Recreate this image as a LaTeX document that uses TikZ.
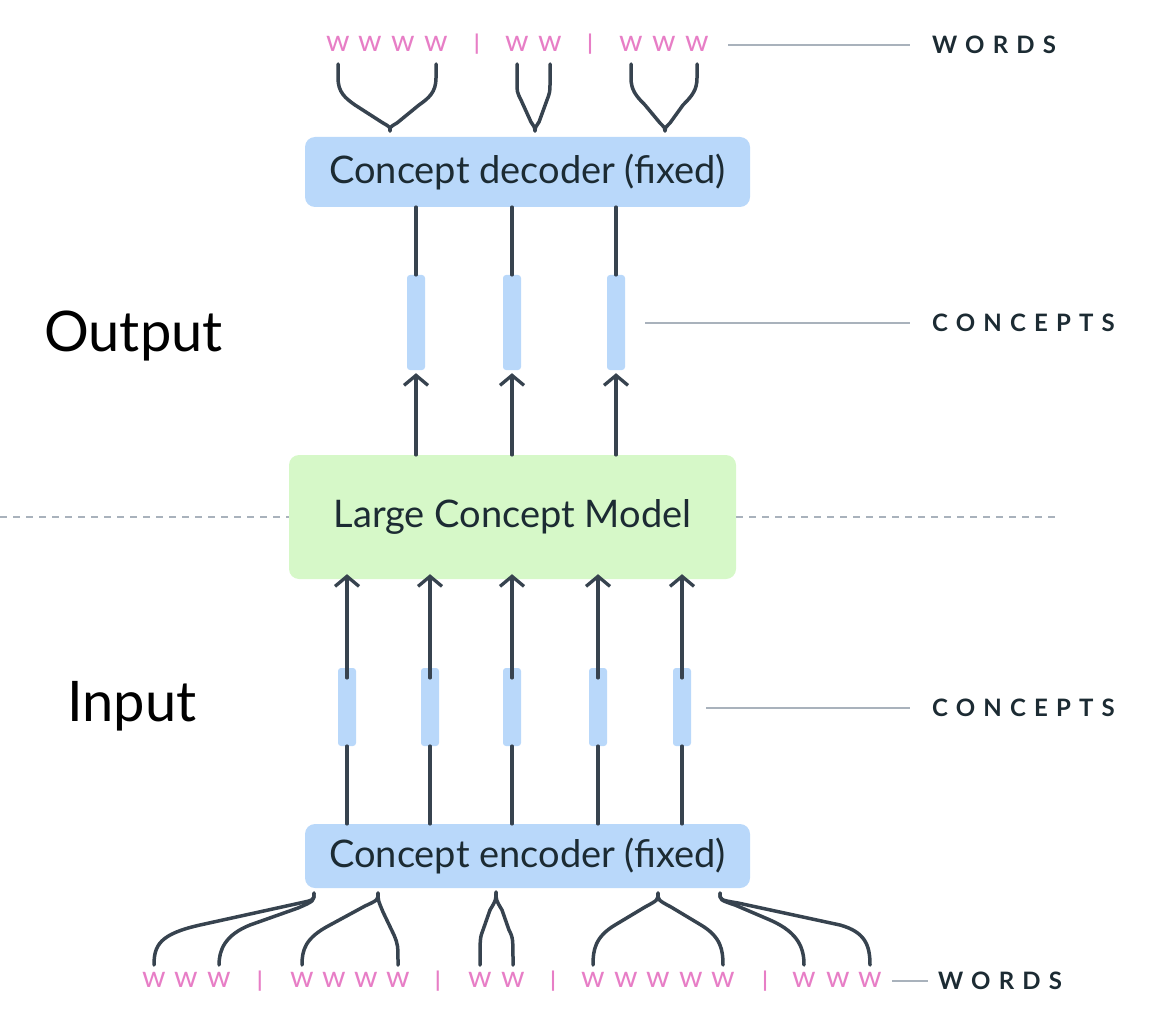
\documentclass[tikz,border=0pt]{standalone}
\usepackage{fontspec}
\setmainfont{Lato}
\usetikzlibrary{arrows.meta,calc}
\definecolor{ink}{HTML}{37434F}
\definecolor{txt}{HTML}{1C2B33}
\definecolor{pinkw}{HTML}{E77EC6}
\definecolor{bluebox}{HTML}{B9D8FA}
\definecolor{greenbox}{HTML}{D6F8C8}
\definecolor{grayline}{HTML}{A9B2BC}
\newfontfamily\spacedfont[LetterSpace=34]{Lato Bold}
\begin{document}
\begin{tikzpicture}[x=1pt,y=-1pt,
  wrd/.style={text=pinkw,font=\fontsize{30}{30}\selectfont,inner sep=0pt,anchor=center},
  barw/.style={text=pinkw,font=\fontsize{30}{30}\selectfont,inner sep=0pt,anchor=center},
  bigbox/.style={rounded corners=10pt,inner sep=0pt,text=txt},
  concept/.style={fill=bluebox,rounded corners=3pt,minimum width=18pt,minimum height=#1,inner sep=0pt},
  conn/.style={draw=ink,line width=3.5pt,line cap=round,line join=round},
  arr/.style={conn,-{Straight Barb[length=10pt,width=24pt,line width=3.3pt]}},
  lbl/.style={text=txt,font=\fontsize{24}{24}\spacedfont,anchor=west,inner sep=0pt},
  side/.style={text=black,font=\fontsize{56}{56}\selectfont,anchor=west,inner sep=0pt},
  guide/.style={draw=grayline,line width=1.8pt}
]
\useasboundingbox (0,0) rectangle (1164,1032);

% ---------- boxes ----------
\node[bigbox,fill=bluebox,minimum width=445pt,minimum height=70pt,font=\fontsize{38}{38}\selectfont] (dec) at (527.5,172) {Concept decoder (fixed)};
\node[bigbox,fill=greenbox,minimum width=447pt,minimum height=124pt,font=\fontsize{38}{38}\selectfont] (lcm) at (512.5,517) {Large Concept Model};
\node[bigbox,fill=bluebox,minimum width=445pt,minimum height=64pt,font=\fontsize{38}{38}\selectfont] (enc) at (527.5,856) {Concept encoder (fixed)};

% dashed divider
\coordinate (dl) at (0,517);
\coordinate (dr) at (1057,517);
\draw[grayline,line width=1.3pt,dash pattern=on 7pt off 6pt] (dl) -- (lcm.west);
\draw[grayline,line width=1.3pt,dash pattern=on 7pt off 6pt] (lcm.east) -- (dr);

% ---------- output concepts ----------
\node[concept=95pt] (oc1) at (416,322.5) {};
\node[concept=95pt] (oc2) at (512,322.5) {};
\node[concept=95pt] (oc3) at (616,322.5) {};
\foreach \i in {1,2,3}{
  \draw[conn] (oc\i.north) -- (oc\i |- dec.south);
  \draw[arr] (oc\i |- lcm.north) -- ([yshift=-3pt]oc\i.south);
}

% ---------- input concepts ----------
\node[concept=78pt] (ic1) at (347,707) {};
\node[concept=78pt] (ic2) at (430,707) {};
\node[concept=78pt] (ic3) at (512,707) {};
\node[concept=78pt] (ic4) at (598,707) {};
\node[concept=78pt] (ic5) at (682,707) {};
\foreach \i in {1,...,5}{
  \draw[conn] (ic\i.south) -- (ic\i |- enc.north);
  \draw[arr] ([yshift=-10pt]ic\i.north) -- ([yshift=5pt]ic\i |- lcm.south);
}

% ---------- side labels ----------
\node[side] (outl) at (44,336) {Output};
\node[side] (inl) at (67,706) {Input};

% ---------- right labels ----------
\node[lbl] (wt) at (932,45) {WORDS};
\node[lbl] (ct) at (932,323) {CONCEPTS};
\node[lbl] (ci) at (932,708) {CONCEPTS};
\node[lbl] (wb) at (938,981) {WORDS};
\coordinate (gt) at (728,45);
\coordinate (gc) at (645,323);
\coordinate (gi) at (706,708);
\coordinate (gb) at (892,981);
\draw[guide] (gt) -- ([xshift=-22pt]wt.west);
\draw[guide] (gc) -- ([xshift=-22pt]ct.west);
\draw[guide] (gi) -- ([xshift=-22pt]ci.west);
\draw[guide] (gb) -- ([xshift=-10pt]wb.west);

% ---------- top words ----------
\foreach \n/\x in {1/338,2/370,3/403,4/436,5/517,6/550,7/631,8/664,9/697}{
  \node[wrd] (tw\n) at (\x,44) {w};
}
\node[barw] (tb1) at (477,44) {\scalebox{1}[0.72]{|}};
\node[barw] (tb2) at (590,44) {\scalebox{1}[0.72]{|}};

\coordinate (ja) at (390,131);
\coordinate (jb) at (535,131);
\coordinate (jc) at (665,131);
\coordinate (tline) at (0,64);
% group A
\draw[conn] (tw1 |- tline) -- ++(0,14) .. controls +(0,14) and (345,98) .. (355,105) -- (383,123) .. controls (390,127) .. (ja);
\draw[conn] (tw4 |- tline) -- ++(0,14) .. controls +(0,14) and (429,98) .. (419,105) -- (397,123) .. controls (390,127) .. (ja);
% group B
\draw[conn] (tw5 |- tline) -- ++(0,18) .. controls +(0,10) .. (521,100) -- (531,122) .. controls (535,128) .. (jb);
\draw[conn] (tw6 |- tline) -- ++(0,18) .. controls +(0,10) .. (547,100) -- (539,122) .. controls (535,128) .. (jb);
% group C
\draw[conn] (tw7 |- tline) -- ++(0,14) .. controls +(0,12) and (636,96) .. (645,105) -- (660,123) .. controls (665,128) .. (jc);
\draw[conn] (tw9 |- tline) -- ++(0,14) .. controls +(0,12) and (692,96) .. (683,105) -- (670,123) .. controls (665,128) .. (jc);

% ---------- bottom words ----------
\foreach \n/\x in {1/154,2/186,3/219,4/302,5/334,6/366,7/398,8/480,9/513,10/593,11/626,12/658,13/691,14/723,15/804,16/838,17/870}{
  \node[wrd] (bw\n) at (\x,980) {w};
}
\foreach \n/\x in {1/260,2/438,3/553,4/765}{
  \node[barw] (bb\n) at (\x,981) {\scalebox{1}[0.72]{|}};
}

\coordinate (bline) at (0,965);
\coordinate (j1) at (314,893);
\coordinate (j2) at (378,893);
\coordinate (j3) at (496,892);
\coordinate (j4) at (658,893);
\coordinate (j5) at (720,893);
% group 1
\draw[conn] (j1) .. controls (314,900) .. (300,903) -- (200,925) .. controls (160,934) and (154,945) .. (bw1 |- bline);
\draw[conn] (j1) .. controls (314,901) .. (298,908) -- (250,925) .. controls (225,935) and (219,950) .. (bw3 |- bline);
% group 2
\draw[conn] (j2) .. controls (378,900) .. (365,906) -- (330,925) .. controls (305,938) and (302,950) .. (bw4 |- bline);
\draw[conn] (j2) .. controls (378,900) .. (383,912) -- (394,935) .. controls (398,945) .. (bw7 |- bline);
% group 3
\draw[conn] (j3) .. controls (496,900) .. (490,910) -- (483,930) .. controls (480,938) .. (bw8 |- bline);
\draw[conn] (j3) .. controls (496,900) .. (502,910) -- (509,930) .. controls (513,938) .. (bw9 |- bline);
% group 4
\draw[conn] (j4) .. controls (658,900) .. (645,907) -- (615,925) .. controls (595,937) and (593,950) .. (bw10 |- bline);
\draw[conn] (j4) .. controls (658,900) .. (671,907) -- (701,925) .. controls (721,937) and (723,950) .. (bw14 |- bline);
% group 5
\draw[conn] (j5) .. controls (720,900) .. (735,905) -- (770,920) .. controls (800,933) and (804,950) .. (bw15 |- bline);
\draw[conn] (j5) .. controls (720,900) .. (738,903) -- (840,925) .. controls (865,932) and (870,945) .. (bw17 |- bline);
\end{tikzpicture}
\end{document}
